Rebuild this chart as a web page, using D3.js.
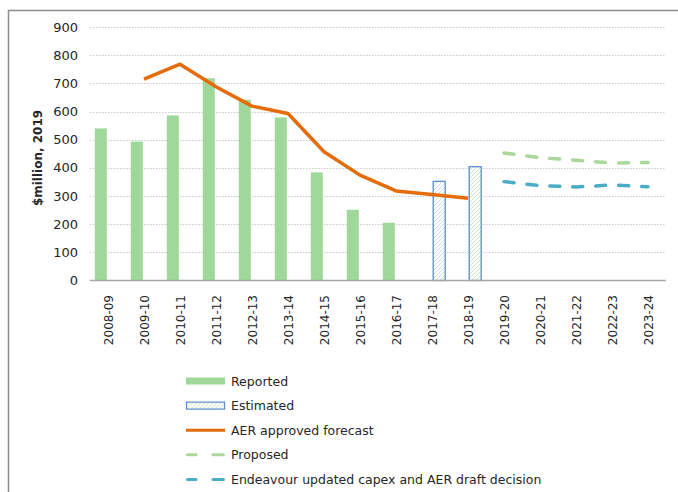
<!DOCTYPE html>
<html>
<head>
<meta charset="utf-8">
<script src="https://cdn.jsdelivr.net/npm/d3@7"></script>
<style>
  body { margin: 0; background: #fff; }
  svg { display: block; font-family: "DejaVu Sans", Verdana, sans-serif; }
</style>
</head>
<body>
<svg id="chart" width="678" height="492"></svg>
<script>
const years = ["2008-09", "2009-10", "2010-11", "2011-12", "2012-13", "2013-14", "2014-15", "2015-16",
  "2016-17", "2017-18", "2018-19", "2019-20", "2020-21", "2021-22", "2022-23", "2023-24"];
const reported = [540, 493, 586, 718, 642, 579, 384, 251, 205, null, null, null, null, null, null, null];
const estimated = [null, null, null, null, null, null, null, null, null, 352, 404, null, null, null, null, null];
const aerForecast = [null, 715, 768, 688, 619, 593, 457, 374, 318, 305, 292, null, null, null, null, null];
const proposed = [null, null, null, null, null, null, null, null, null, null, null, 453, 436, 427, 417, 419];
const endeavour = [null, null, null, null, null, null, null, null, null, null, null, 351, 337, 332, 339, 333];
const yTicks = [0, 100, 200, 300, 400, 500, 600, 700, 800, 900];

var svg = d3.select("#chart");

// frame
svg.append("path")
  .attr("d", "M8.5,492 V10.5 H678")
  .attr("fill", "none")
  .attr("stroke", "#8c8c8c")
  .attr("stroke-width", 1.5);

var defs = svg.append("defs");
var hatch = defs.append("pattern")
  .attr("id", "hatch")
  .attr("patternUnits", "userSpaceOnUse")
  .attr("width", 4).attr("height", 4);
hatch.append("rect").attr("width", 4).attr("height", 4).attr("fill", "#fff");
hatch.append("path")
  .attr("d", "M-1,1 l2,-2 M0,4 l4,-4 M3,5 l2,-2")
  .attr("stroke", "#b9e0ac")
  .attr("stroke-width", 0.8);

var x = d3.scaleBand()
  .domain(years)
  .range([90, 666])
  .paddingInner(0)
  .paddingOuter(0);

var y = d3.scaleLinear()
  .domain([0, 900])
  .range([280.5, 27]);

// gridlines
svg.append("g")
  .selectAll("line")
  .data(yTicks.slice(1))
  .enter()
  .append("line")
  .attr("x1", 90).attr("x2", 666)
  .attr("y1", d => Math.round(y(d)) + 0.5)
  .attr("y2", d => Math.round(y(d)) + 0.5)
  .attr("stroke", "#c8c8c8")
  .attr("stroke-dasharray", "1.5,1.5");

// y axis labels
svg.append("g")
  .selectAll("text")
  .data(yTicks)
  .enter()
  .append("text")
  .attr("x", 78)
  .attr("y", d => y(d) + 4.5)
  .attr("text-anchor", "end")
  .attr("font-size", "13px")
  .attr("fill", "#262626")
  .text(d => d);

var barW = 12, offset = 7.2;

svg.append("g")
  .selectAll("rect")
  .data(years.map((d, i) => ({year: d, v: reported[i]})).filter(d => d.v != null))
  .enter()
  .append("rect")
  .attr("x", d => x(d.year) + x.bandwidth() / 2 - offset - barW / 2)
  .attr("y", d => y(d.v))
  .attr("width", barW)
  .attr("height", d => y(0) - y(d.v))
  .attr("fill", "#9fd89a");

svg.append("g")
  .selectAll("rect")
  .data(years.map((d, i) => ({year: d, v: estimated[i]})).filter(d => d.v != null))
  .enter()
  .append("rect")
  .attr("x", d => x(d.year) + x.bandwidth() / 2 + offset - barW / 2)
  .attr("y", d => y(d.v))
  .attr("width", barW)
  .attr("height", d => y(0) - y(d.v))
  .attr("fill", "url(#hatch)")
  .attr("stroke", "#5b8bd0")
  .attr("stroke-width", 1.3);

// x axis line
svg.append("line")
  .attr("x1", 90).attr("x2", 666)
  .attr("y1", 280.5).attr("y2", 280.5)
  .attr("stroke", "#a6a6a6")
  .attr("stroke-width", 1.3);

// x labels
svg.append("g")
  .selectAll("text")
  .data(years)
  .enter()
  .append("text")
  .attr("transform", d => `translate(${x(d) + x.bandwidth() / 2 + 4.5},295) rotate(-90)`)
  .attr("text-anchor", "end")
  .attr("font-size", "12px")
  .attr("fill", "#262626")
  .text(d => d);

var line = d3.line()
  .defined(d => d.v != null)
  .x(d => x(d.year) + x.bandwidth() / 2)
  .y(d => y(d.v));

function series(vals) {
  return years.map((d, i) => ({year: d, v: vals[i]}));
}

svg.append("path")
  .datum(series(aerForecast))
  .attr("d", line)
  .attr("fill", "none")
  .attr("stroke", "#e46c0a")
  .attr("stroke-width", 3.5)
  .attr("stroke-linejoin", "round");

svg.append("path")
  .datum(series(proposed))
  .attr("d", line)
  .attr("fill", "none")
  .attr("stroke", "#a9d89a")
  .attr("stroke-width", 3.5)
  .attr("stroke-linecap", "round")
  .attr("stroke-dasharray", "10,13");

svg.append("path")
  .datum(series(endeavour))
  .attr("d", line)
  .attr("fill", "none")
  .attr("stroke", "#4bacc6")
  .attr("stroke-width", 3.5)
  .attr("stroke-linecap", "round")
  .attr("stroke-dasharray", "10,13");

// y axis title
svg.append("text")
  .attr("transform", "translate(42,158) rotate(-90)")
  .attr("text-anchor", "middle")
  .attr("font-size", "12px")
  .attr("font-weight", "bold")
  .attr("fill", "#262626")
  .text("$million, 2019");

// legend
var legendItems = [
  {name: "Reported", type: "bar"},
  {name: "Estimated", type: "hatch"},
  {name: "AER approved forecast", type: "line", color: "#e46c0a"},
  {name: "Proposed", type: "dash", color: "#a9d89a"},
  {name: "Endeavour updated capex and AER draft decision", type: "dash", color: "#4bacc6"}
];

const legend = svg.append("g")
  .attr("transform", "translate(186,381)");

legendItems.forEach((item, i) => {
  var g = legend.append("g").attr("transform", `translate(0,${i * 24.6})`);
  if (item.type == "bar") {
    g.append("rect").attr("x", 0).attr("y", -3.5).attr("width", 39).attr("height", 7).attr("fill", "#9fd89a");
  } else if (item.type == "hatch") {
    g.append("rect").attr("x", 0.5).attr("y", -3.5).attr("width", 38).attr("height", 7)
      .attr("fill", "url(#hatch)").attr("stroke", "#5b8bd0").attr("stroke-width", 1.2);
  } else if (item.type == "line") {
    g.append("line").attr("x1", 0).attr("x2", 39).attr("y1", 0).attr("y2", 0)
      .attr("stroke", item.color).attr("stroke-width", 3);
  } else {
    g.append("line").attr("x1", 1.5).attr("x2", 10).attr("y1", 0).attr("y2", 0)
      .attr("stroke", item.color).attr("stroke-width", 3).attr("stroke-linecap", "round");
    g.append("line").attr("x1", 27).attr("x2", 37.5).attr("y1", 0).attr("y2", 0)
      .attr("stroke", item.color).attr("stroke-width", 3).attr("stroke-linecap", "round");
  }
  g.append("text")
    .attr("x", 45)
    .attr("y", 4.5)
    .attr("font-size", "12.5px")
    .attr("fill", "#262626")
    .text(item.name);
});
</script>
</body>
</html>
